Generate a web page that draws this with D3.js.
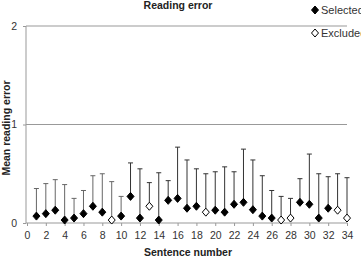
<!DOCTYPE html>
<html><head><meta charset="utf-8">
<script src="https://cdn.jsdelivr.net/npm/d3@7"></script>
<style>body{margin:0;background:#fff;overflow:hidden}svg{display:block;font-family:"Liberation Sans",Arial,sans-serif}</style>
</head><body>
<script>
const sentences = d3.range(1, 35);
const meanError = [0.07,0.095,0.13,0.03,0.05,0.095,0.17,0.11,0.03,0.07,0.27,0.05,0.17,0.03,0.23,0.25,0.15,0.17,0.11,0.13,0.11,0.19,0.21,0.135,0.07,0.05,0.03,0.05,0.21,0.19,0.05,0.15,0.13,0.05];
const upperError = [0.35,0.40,0.44,0.39,0.25,0.33,0.48,0.50,0.42,0.27,0.61,0.55,0.41,0.51,0.43,0.77,0.64,0.55,0.50,0.52,0.57,0.52,0.75,0.64,0.48,0.33,0.27,0.25,0.45,0.70,0.50,0.47,0.50,0.46];
const excluded = [9,13,19,27,28,33,34];
const xTicks = d3.range(0, 35, 2);
const yTicks = [0,1,2];

const W = 361, H = 258;
const svg = d3.select("body").append("svg").attr("width", W).attr("height", H);
const x = d3.scaleLinear().domain([0,34]).range([27,347]);
const y = d3.scaleLinear().domain([0,2]).range([223,26]);

// gridlines
svg.selectAll(".grid").data(yTicks.filter(d=>d>0)).join("line")
  .attr("x1", 26).attr("x2", 347).attr("y1", d=>y(d)).attr("y2", d=>y(d))
  .attr("stroke", "#999").attr("stroke-width", 1);

// axes
const xAxis = svg.append("g").attr("transform", `translate(0,${y(0)})`)
  .call(d3.axisBottom(x).tickValues(xTicks).tickSize(3).tickPadding(6).tickFormat(d3.format("d")));
xAxis.select(".domain").attr("stroke", "#999").attr("d", `M26,0H347`);
xAxis.selectAll(".tick line").attr("stroke", "#999");
xAxis.selectAll("text").attr("font-size", 10.5).attr("fill", "#333");

const yAxis = svg.append("g").attr("transform", `translate(26,0)`)
  .call(d3.axisLeft(y).tickValues(yTicks).tickSize(3).tickPadding(6).tickFormat(d3.format("d")));
yAxis.select(".domain").attr("stroke", "#999").attr("d", `M0,${y(0)}V${y(2)}`);
yAxis.selectAll(".tick line").attr("stroke", "#999");
yAxis.selectAll("text").attr("font-size", 10.5).attr("fill", "#333");

const data = sentences.map((s,i)=>({s, m: meanError[i], u: upperError[i], ex: excluded.includes(s)}));

// error bars
const eb = svg.append("g");
eb.selectAll(".v").data(data).join("line")
  .attr("x1", d=>x(d.s)).attr("x2", d=>x(d.s)).attr("y1", d=>y(d.m)).attr("y2", d=>y(d.u))
  .attr("stroke", d=>d.s<=10 ? "#666" : "#333").attr("stroke-width", 1);
eb.selectAll(".c").data(data).join("line")
  .attr("x1", d=>x(d.s)-2.5).attr("x2", d=>x(d.s)+2.5).attr("y1", d=>y(d.u)).attr("y2", d=>y(d.u))
  .attr("stroke", d=>d.s<=10 ? "#666" : "#333").attr("stroke-width", 1);

// markers
const diamond = "M0,-4L3.5,0L0,4L-3.5,0Z";
svg.append("g").selectAll("path").data(data).join("path")
  .attr("transform", d=>`translate(${x(d.s)},${y(d.m)})`)
  .attr("d", diamond)
  .attr("fill", d=>d.ex ? "#fff" : "#000")
  .attr("stroke", "#000").attr("stroke-width", 1);

// titles
svg.append("text").attr("x", 178).attr("y", 9).attr("text-anchor", "middle")
  .attr("font-size", 10.5).attr("font-weight", "bold").attr("fill", "#222").text("Reading error");
svg.append("text").attr("x", 188).attr("y", 256).attr("text-anchor", "middle")
  .attr("font-size", 10.5).attr("font-weight", "bold").attr("fill", "#222").text("Sentence number");
svg.append("text").attr("transform", "translate(9.5,128) rotate(-90)").attr("text-anchor", "middle")
  .attr("font-size", 10.5).attr("font-weight", "bold").attr("fill", "#222").text("Mean reading error");

// legend
const legend = [{label:"Selected", ex:false, yy:10},{label:"Excluded", ex:true, yy:33}];
const lg = svg.append("g").selectAll("g").data(legend).join("g")
  .attr("transform", d=>`translate(315,${d.yy})`);
lg.append("path").attr("d", diamond).attr("fill", d=>d.ex?"#fff":"#000").attr("stroke","#000");
lg.append("text").attr("x", 6).attr("y", 4).attr("font-size", 11).attr("fill", "#333").text(d=>d.label);
</script>
</body></html>
